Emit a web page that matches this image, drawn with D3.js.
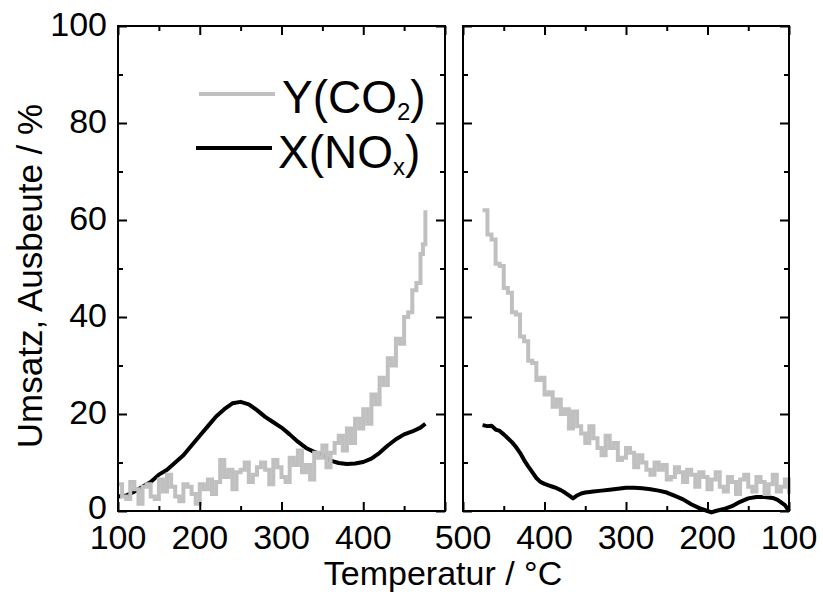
<!DOCTYPE html>
<html>
<head>
<meta charset="utf-8">
<script src="https://cdn.jsdelivr.net/npm/d3@7"></script>
<style>
body { margin: 0; background: #fff; }
text { font-family: "Liberation Sans", Arial, sans-serif; fill: #000; }
</style>
</head>
<body>
<svg id="chart" width="823" height="599"></svg>
<script>
// heating run, 100 -> 476 °C (left panel)
var heatTempsCO2 = [100,105,110,115,120,125,130,135,140,145,150,155,160,165,170,175,180,185,190,195,
    200,205,210,215,220,225,230,235,240,245,250,255,260,265,270,275,280,285,290,295,
    300,305,310,315,320,325,330,335,340,345,350,355,360,365,370,375,380,385,390,395,
    400,405,410,415,420,425,430,435,440,445,450,455,460,465,470,473,476];
var heatCO2 = [5.5,3,2.5,6,4.5,1.5,5,5.5,3,2.5,6.5,4,7.5,5,3,2,5.5,5,3.5,1.5,
    5.5,4.5,6.5,3.5,6,10.5,7,8.5,4.5,8,8.5,10,6,7.5,9,10,8.5,5.5,10.5,9,
    7,6,11,9.5,12.5,8,9.5,6.5,12,11,13.5,9,12,14,15.5,12.5,17,14,19,17,
    21,18,24,22,27.5,26,31.5,30,35.5,34.5,40,41,45.5,47,53,55,62];
var heatTempsNOx = [100,105,110,115,120,130,140,150,160,170,180,190,200,210,220,230,240,250,260,270,
    280,290,300,310,320,330,340,350,360,370,380,390,400,410,420,430,440,450,460,470,476];
var heatNOx = [3,3.1,3.2,3.6,4,5,6,7.5,8.5,10,11.5,13.5,15.5,17.5,19.5,21,22.2,22.5,22,20.8,
    19.4,18.3,17.2,15.8,14.3,13,12.2,11.6,10.4,9.9,9.7,9.8,10.1,10.8,12,13.5,14.8,15.8,16.4,17.2,18];

// cooling run, 476 -> 100 °C (right panel)
var coolTempsCO2 = [476,470,465,460,455,450,445,440,435,430,425,420,415,410,405,400,395,390,385,380,
    375,370,365,360,355,350,345,340,335,330,325,320,315,310,305,300,295,290,285,280,
    275,270,265,260,255,250,245,240,235,230,225,220,215,210,205,200,195,190,185,180,
    175,170,165,160,155,150,145,140,135,130,125,120,115,110,105,100];
var coolCO2 = [62,57,56,51,50.5,46,45,41,40.5,36,35,31,30.5,27,27.5,24,24.5,21.5,23,20,
    21,17,20.5,17.5,16,14,17.5,15,13,11.5,15.5,13,14,10.5,11,13,12,9,11.5,10,
    8.5,7.5,10,8.5,9.5,6.5,7,9,8,6,8.5,7.5,5,8,7,4.5,6.5,8,5,4,
    7,6,3.5,6.5,7.5,5,4,7,6,3.5,5.5,7.5,4,5,6.5,3.5];
var coolTempsNOx = [476,470,465,460,455,450,445,440,435,430,425,420,415,410,405,400,395,390,385,380,
    375,370,365,360,355,350,340,330,320,310,300,290,280,270,260,250,240,230,220,210,
    200,195,190,180,170,160,150,140,130,120,114,105,100];
var coolNOx = [17.7,17.5,17.6,16.8,16.5,15.8,15,14.2,13.2,12,10.5,9.2,8,6.8,6,5.6,5.3,5,4.7,4.3,
    3.8,3.2,2.6,3.2,3.6,3.8,4,4.2,4.4,4.6,4.8,4.8,4.7,4.5,4.2,3.8,3.1,2.4,1.4,0.6,
    0,-0.3,0,0.4,1,1.9,2.6,2.9,2.9,2.7,2.3,1.2,0];

var leftTickLabels = [100, 200, 300, 400];
var rightTickLabels = [500, 400, 300, 200, 100];
var yTickLabels = [0, 20, 40, 60, 80, 100];
var seriesNames = ["Y(CO", "X(NO"];

var svg = d3.select("#chart");
var top_ = 26, bottom = 511;
var y = d3.scaleLinear().domain([0, 100]).range([bottom, top_]);
var xLeft = d3.scaleLinear().domain([100, 500]).range([118, 445]);
var xRight = d3.scaleLinear().domain([500, 100]).range([463, 789]);

var grey = "#c0c0c0";

function drawPanel(x, labels, showY, co2T, co2V, noxT, noxV) {
    var x0 = d3.min(x.range()), x1 = d3.max(x.range());
    var g = svg.append("g");

    //data lines, grey drawn over black
    var noxLine = d3.line()
        .x(function(d, i) { return x(noxT[i]); })
        .y(function(d) { return y(d); });
    g.append("path")
        .datum(noxV)
        .attr("d", noxLine)
        .attr("fill", "none")
        .attr("stroke", "#000")
        .attr("stroke-width", 4)
        .attr("stroke-linejoin", "round");
    var co2Line = d3.line()
        .x(function(d, i) { return x(co2T[i]); })
        .y(function(d) { return y(d); })
        .curve(d3.curveStepAfter);
    g.append("path")
        .datum(co2V)
        .attr("d", co2Line)
        .attr("fill", "none")
        .attr("stroke", grey)
        .attr("stroke-width", 4);

    var xMajor = [100, 200, 300, 400, 500];
    var xMinor = [150, 250, 350, 450];
    var yMajor = yTickLabels;
    var yMinor = [10, 30, 50, 70, 90];

    function tickAxis(axis, pos, vals, size) {
        var a = g.append("g")
            .attr("transform", pos)
            .call(axis.tickValues(vals).tickSizeInner(-size).tickSizeOuter(0).tickFormat(""));
        a.select(".domain").remove();
        a.selectAll("line").attr("stroke", "#000").attr("stroke-width", 2);
    }

    tickAxis(d3.axisBottom(x), "translate(0," + bottom + ")", xMajor, 9);
    tickAxis(d3.axisBottom(x), "translate(0," + bottom + ")", xMinor, 5);
    tickAxis(d3.axisTop(x), "translate(0," + top_ + ")", xMajor, 9);
    tickAxis(d3.axisTop(x), "translate(0," + top_ + ")", xMinor, 5);
    tickAxis(d3.axisLeft(y), "translate(" + x0 + ",0)", yMajor, 9);
    tickAxis(d3.axisLeft(y), "translate(" + x0 + ",0)", yMinor, 5);
    tickAxis(d3.axisRight(y), "translate(" + x1 + ",0)", yMajor, 9);
    tickAxis(d3.axisRight(y), "translate(" + x1 + ",0)", yMinor, 5);

    // tick labels
    g.append("g").selectAll("text")
        .data(labels)
        .enter()
        .append("text")
        .attr("x", function(d) { return x(d); })
        .attr("y", 549)
        .attr("text-anchor", "middle")
        .attr("font-size", 34)
        .text(function(d) { return d; });
    if (showY) {
        g.append("g").selectAll("text")
            .data(yTickLabels)
            .enter()
            .append("text")
            .attr("x", x0 - 11)
            .attr("y", function(d) { return y(d) + (d === 0 ? 8 : 10); })
            .attr("text-anchor", "end")
            .attr("font-size", 34)
            .text(function(d) { return d; });
    }

    g.append("rect")
        .attr("x", x0)
        .attr("y", top_)
        .attr("width", x1 - x0)
        .attr("height", bottom - top_)
        .attr("fill", "none")
        .attr("stroke", "#000")
        .attr("stroke-width", 2);
}

drawPanel(xLeft, leftTickLabels, true, heatTempsCO2, heatCO2, heatTempsNOx, heatNOx);
drawPanel(xRight, rightTickLabels, false, coolTempsCO2, coolCO2, coolTempsNOx, coolNOx);

// legend
var legend = svg.append("g");
legend.append("line")
    .attr("x1", 199).attr("x2", 275).attr("y1", 94).attr("y2", 94)
    .attr("stroke", grey).attr("stroke-width", 4);
legend.append("line")
    .attr("x1", 196).attr("x2", 272).attr("y1", 148).attr("y2", 148)
    .attr("stroke", "#000").attr("stroke-width", 4);
var subs = ["2", "x"];
seriesNames.forEach(function(name, i) {
    var t = legend.append("text")
        .attr("x", i === 0 ? 282 : 278)
        .attr("y", i === 0 ? 113 : 168)
        .attr("font-size", 46)
        .text(name);
    t.append("tspan").attr("font-size", 24).attr("dy", 7).text(subs[i]);
    t.append("tspan").attr("dy", -7).text(")");
});

// axis titles
svg.append("text")
    .attr("x", 443)
    .attr("y", 585)
    .attr("text-anchor", "middle")
    .attr("font-size", 34)
    .text("Temperatur / °C");
svg.append("text")
    .attr("transform", "translate(42,276) rotate(-90)")
    .attr("text-anchor", "middle")
    .attr("font-size", 35)
    .text("Umsatz, Ausbeute / %");
</script>
</body>
</html>
